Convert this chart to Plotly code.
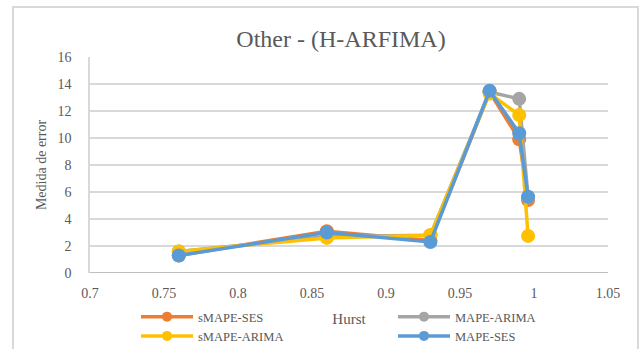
import plotly.graph_objects as go

# Hurst exponent of each series and error measures per method
hurst = [0.76, 0.86, 0.93, 0.97, 0.99, 0.996]
smape_ses = [1.3, 3.1, 2.4, 13.4, 9.9, 5.4]
mape_arima = [1.6, 2.7, 2.8, 13.4, 12.9, 5.6]
smape_arima = [1.6, 2.6, 2.8, 13.3, 11.7, 2.75]
mape_ses = [1.3, 3.0, 2.3, 13.5, 10.35, 5.65]

x_ticks = [0.7, 0.75, 0.8, 0.85, 0.9, 0.95, 1, 1.05]
x_tick_text = ["0.7", "0.75", "0.8", "0.85", "0.9", "0.95", "1", "1.05"]
y_ticks = [0, 2, 4, 6, 8, 10, 12, 14, 16]

FONT = "Liberation Serif"
TXT = "#595959"

series = [
    ("sMAPE-SES", smape_ses, "#ED7D31", "legend"),
    ("MAPE-ARIMA", mape_arima, "#A5A5A5", "legend2"),
    ("sMAPE-ARIMA", smape_arima, "#FFC000", "legend"),
    ("MAPE-SES", mape_ses, "#5B9BD5", "legend2"),
]

fig = go.Figure()
for name, vals, color, lg in series:
    fig.add_trace(go.Scatter(
        x=hurst, y=vals, name=name, mode="lines+markers",
        line=dict(color=color, width=3.5),
        marker=dict(color=color, size=14),
        showlegend=False,
    ))
# Legend keys with smaller markers than the plotted points
for name, vals, color, lg in series:
    fig.add_trace(go.Scatter(
        x=[None], y=[None], name=name, mode="lines+markers",
        line=dict(color=color, width=3.5),
        marker=dict(color=color, size=10),
        legend=lg, showlegend=True,
    ))

W, H = 640, 349
L, R, T, B = 90, 32, 57, 76
pw, ph = W - L - R, H - T - B

legend_common = dict(xanchor="left", yanchor="top", orientation="v",
                     itemwidth=52, tracegroupgap=0,
                     font=dict(size=12.5, color=TXT), bgcolor="rgba(0,0,0,0)")

fig.update_layout(
    width=W, height=H,
    margin=dict(l=L, r=R, t=T, b=B, autoexpand=False),
    paper_bgcolor="white", plot_bgcolor="white",
    font=dict(family=FONT, color=TXT, size=14),
    title=dict(text="Other - (H-ARFIMA)", x=341 / W, xanchor="center",
               y=1 - 39 / H, yanchor="middle",
               font=dict(family=FONT, size=24, color=TXT)),
    xaxis=dict(range=[0.7, 1.05], tickvals=x_ticks, ticktext=x_tick_text,
               showgrid=False, zeroline=False, showline=False,
               ticks="", ticklabelstandoff=10, tickfont=dict(size=14, color=TXT),
               title=dict(text="Hurst", font=dict(size=15, color=TXT), standoff=13)),
    yaxis=dict(range=[0, 16], tickvals=y_ticks, showgrid=True,
               gridcolor="#D9D9D9", gridwidth=1.5, zeroline=False,
               showline=True, linecolor="#D9D9D9", linewidth=1.5,
               ticks="", ticklabelstandoff=14, tickfont=dict(size=14, color=TXT),
               title=dict(text="Medida de error", font=dict(size=14, color=TXT),
                          standoff=8)),
    legend=dict(x=(136 - L) / pw, y=-(302 - T - ph) / ph, **legend_common),
    legend2=dict(x=(393 - L) / pw, y=-(302 - T - ph) / ph, **legend_common),
)

# Baseline at zero, darker than the gridlines
fig.add_shape(type="line", xref="paper", yref="y", x0=0, x1=1, y0=0, y1=0,
              line=dict(color="#BFBFBF", width=2))

# Chart-area frame
fig.add_shape(type="rect", xref="paper", yref="paper",
              x0=(13 - L) / pw, x1=(638 - L) / pw,
              y0=-(365 - T - ph) / ph, y1=(T + ph - 7) / ph,
              line=dict(color="#D9D9D9", width=2), layer="below")

fig.write_html("out.html")
